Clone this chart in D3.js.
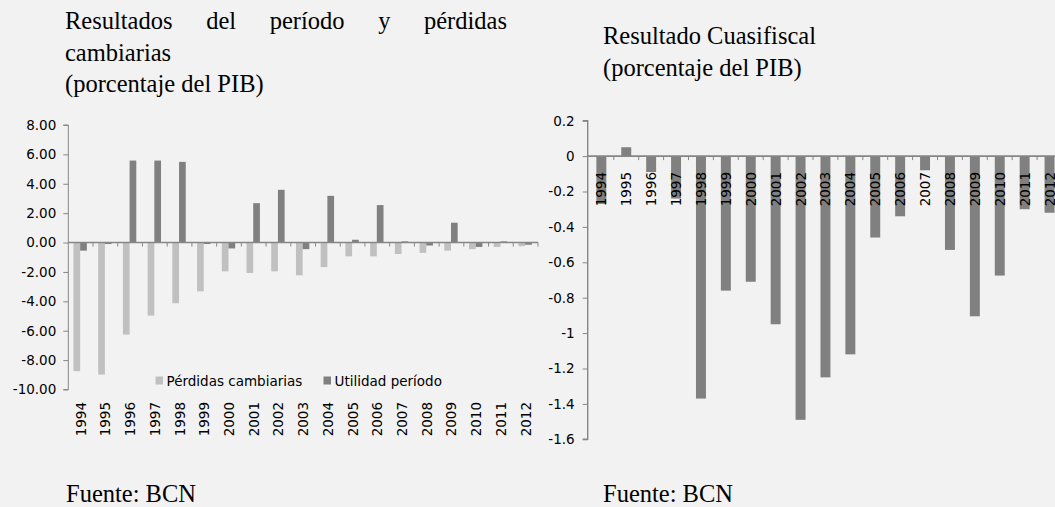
<!DOCTYPE html>
<html><head><meta charset="utf-8">
<script src="https://cdn.jsdelivr.net/npm/d3@7"></script>
<style>
html,body{margin:0;padding:0;background:#f2f2f2;overflow:hidden;}
svg{display:block;}
</style></head>
<body>
<svg id="c" width="1055" height="507"></svg>
<script>
// ---- data ----
const years = ["1994","1995","1996","1997","1998","1999","2000","2001","2002","2003","2004","2005","2006","2007","2008","2009","2010","2011","2012"];
const perdidasCambiarias = [-8.75,-8.98,-6.26,-4.97,-4.13,-3.32,-1.96,-2.07,-1.96,-2.23,-1.67,-0.94,-0.94,-0.78,-0.70,-0.55,-0.45,-0.30,-0.25];
const utilidadPeriodo = [-0.55,-0.10,5.58,5.58,5.49,-0.10,-0.40,2.68,3.59,-0.45,3.18,0.19,2.55,0.08,-0.20,1.35,-0.30,0.08,-0.15];
const resultadoCuasifiscal = [-0.27,0.05,-0.09,-0.24,-1.37,-0.76,-0.71,-0.95,-1.49,-1.25,-1.12,-0.46,-0.34,-0.08,-0.53,-0.905,-0.675,-0.30,-0.32];
const leftTicks = [8,6,4,2,0,-2,-4,-6,-8,-10];
const rightTicks = [0.2,0,-0.2,-0.4,-0.6,-0.8,-1,-1.2,-1.4,-1.6];
const seriesNames = ["Pérdidas cambiarias","Utilidad período"];
const leftTitle = ["Resultados del período y pérdidas","cambiarias","(porcentaje del PIB)"];
const rightTitle = ["Resultado Cuasifiscal","(porcentaje del PIB)"];
const source = "Fuente: BCN";

const svg = d3.select("#c");
const AX = "#868686", LIGHT = "#c0c0c0", DARK = "#808080";
const tickFont = "DejaVu Sans, Verdana, sans-serif";
const serif = "Liberation Serif, Times New Roman, serif";
const TFS = "24.5px";

// ---------- LEFT CHART ----------
const xL = d3.scaleBand().domain(years).range([68.3, 538]);
const yL = d3.scaleLinear().domain([-10, 8]).range([389.5, 125]);
const sub = d3.scaleBand().domain([0,1]).range([0, 13.4]);
const gL = svg.append("g");

gL.selectAll("rect.p").data(years).join("rect")
  .attr("x", d => xL(d) + (xL.bandwidth()-13.4)/2 + sub(0) - 0.5)
  .attr("width", sub.bandwidth())
  .attr("y", (d,i) => Math.min(yL(perdidasCambiarias[i]), yL(0)))
  .attr("height", (d,i) => Math.abs(yL(perdidasCambiarias[i]) - yL(0)))
  .attr("fill", LIGHT);
gL.selectAll("rect.u").data(years).join("rect")
  .attr("x", d => xL(d) + (xL.bandwidth()-13.4)/2 + sub(1) - 0.5)
  .attr("width", sub.bandwidth())
  .attr("y", (d,i) => Math.min(yL(utilidadPeriodo[i]), yL(0)))
  .attr("height", (d,i) => Math.abs(yL(utilidadPeriodo[i]) - yL(0)))
  .attr("fill", DARK);

const yAxL = gL.append("g").attr("transform","translate(68.3,0)")
  .call(d3.axisLeft(yL).tickValues(leftTicks).tickSize(5).tickPadding(7).tickFormat(v => v.toFixed(2)));
yAxL.select(".domain").attr("stroke", AX).attr("d", `M-5,${yL(8)}H0V${yL(-10)}H-5`);
yAxL.selectAll(".tick line").attr("stroke", AX);
yAxL.selectAll("text").attr("font-family", tickFont).attr("font-size", "13.5px").attr("fill", "#000");

const y0L = yL(0);
gL.append("line").attr("x1", 68.3).attr("x2", 538).attr("y1", y0L).attr("y2", y0L)
  .attr("stroke", AX).attr("stroke-width", 1.4);
years.forEach((d,i) => {
  const bx = xL(d) + xL.bandwidth();
  gL.append("line").attr("x1", bx).attr("x2", bx).attr("y1", y0L).attr("y2", y0L+4).attr("stroke", AX);
});
gL.selectAll("text.xl").data(years).join("text")
  .attr("transform", d => `translate(${xL(d)+xL.bandwidth()/2+5},402) rotate(-90)`)
  .attr("text-anchor","end")
  .attr("font-family", tickFont).attr("font-size","13.5px").attr("fill","#000")
  .text(d => d);

const leg = [{x:155.5, name: seriesNames[0], c: LIGHT},{x:323.5, name: seriesNames[1], c: DARK}];
leg.forEach(l => {
  gL.append("rect").attr("x", l.x).attr("y", 376.5).attr("width", 7.5).attr("height", 8).attr("fill", l.c);
  gL.append("text").attr("x", l.x + 11).attr("y", 385.5)
    .attr("font-family", tickFont).attr("font-size","13.5px").attr("fill","#000").text(l.name);
});

function justify(line, x0, x1, y) {
  const words = line.split(" ");
  const tmp = words.map(w => svg.append("text").attr("font-family", serif).attr("font-size",TFS).text(w));
  const widths = tmp.map(t => t.node().getComputedTextLength());
  tmp.forEach(t => t.remove());
  const gap = ((x1 - x0) - d3.sum(widths)) / (words.length - 1);
  let x = x0;
  words.forEach((w,i) => {
    svg.append("text").attr("x", x).attr("y", y).attr("font-family", serif).attr("font-size",TFS).attr("fill","#000").text(w);
    x += widths[i] + gap;
  });
}
justify(leftTitle[0], 65, 507, 29);
svg.append("text").attr("x",65).attr("y",61).attr("font-family",serif).attr("font-size",TFS).text(leftTitle[1]);
svg.append("text").attr("x",65).attr("y",92).attr("font-family",serif).attr("font-size",TFS).text(leftTitle[2]);
svg.append("text").attr("x",66).attr("y",502).attr("font-family",serif).attr("font-size",TFS).text(source);

// ---------- RIGHT CHART ----------
const xR = d3.scaleBand().domain(years).range([588.9, 588.9 + 19*24.9]).paddingInner(0.6).paddingOuter(0.3);
const yR = d3.scaleLinear().domain([-1.6, 0.2]).range([439.3, 120.7]);
const gR = svg.append("g");

gR.selectAll("rect").data(years).join("rect")
  .attr("x", d => xR(d))
  .attr("width", xR.bandwidth())
  .attr("y", (d,i) => Math.min(yR(resultadoCuasifiscal[i]), yR(0)))
  .attr("height", (d,i) => Math.abs(yR(resultadoCuasifiscal[i]) - yR(0)))
  .attr("fill", DARK);

const yAxR = gR.append("g").attr("transform","translate(587.7,0)")
  .call(d3.axisLeft(yR).tickValues(rightTicks).tickSize(5).tickPadding(8)
    .tickFormat(v => { const s = (+v.toFixed(1)).toString(); return s === "-0" ? "0" : s; }));
yAxR.select(".domain").attr("stroke", AX).attr("stroke-width", 1.4).attr("d", `M-5,${yR(0.2)}H0V${yR(-1.6)}H-5`);
yAxR.selectAll(".tick line").attr("stroke", AX);
yAxR.selectAll("text").attr("font-family", tickFont).attr("font-size", "13.5px").attr("fill", "#000");

const y0R = yR(0);
gR.append("line").attr("x1", 587.7).attr("x2", 1070).attr("y1", y0R).attr("y2", y0R)
  .attr("stroke", AX).attr("stroke-width", 1.6);
years.forEach((d,i) => {
  const bx = 588.9 + (i+1)*24.9;
  gR.append("line").attr("x1", bx).attr("x2", bx).attr("y1", y0R).attr("y2", y0R+4).attr("stroke", AX);
});
gR.selectAll("text.xr").data(years).join("text")
  .attr("transform", d => `translate(${xR(d)+xR.bandwidth()/2+5},172) rotate(-90)`)
  .attr("text-anchor","end")
  .attr("font-family", tickFont).attr("font-size","13.5px").attr("fill","#000")
  .text(d => d);

svg.append("text").attr("x",603).attr("y",44).attr("font-family",serif).attr("font-size",TFS).text(rightTitle[0]);
svg.append("text").attr("x",603).attr("y",76).attr("font-family",serif).attr("font-size",TFS).text(rightTitle[1]);
svg.append("text").attr("x",603).attr("y",502).attr("font-family",serif).attr("font-size",TFS).text(source);
</script>
</body></html>
